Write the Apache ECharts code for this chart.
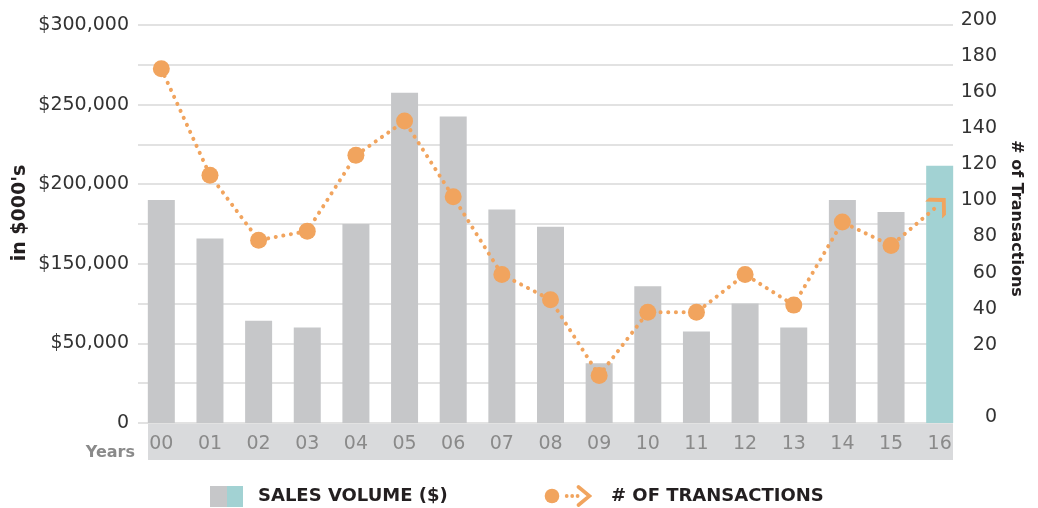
<!DOCTYPE html>
<html>
<head>
<meta charset="utf-8">
<script src="https://cdn.jsdelivr.net/npm/echarts@6/dist/echarts.min.js"></script>
<style>
  html, body { margin: 0; padding: 0; background: #ffffff; }
  #chart { width: 1038px; height: 508px; }
</style>
</head>
<body>
<div id="chart"></div>
<script>
const categories = ['00','01','02','03','04','05','06','07','08','09','10','11','12','13','14','15','16'];
const salesVolume = [168000,139000,77000,72000,150000,249000,231000,161000,148000,45000,103000,69000,90000,72000,168000,159000,194000];
const transactions = [173,114,78,83,125,144,102,59,45,3,38,38,59,42,88,75,98];
const leftTickLabels = ['0','$50,000','$150,000','$200,000','$250,000','$300,000'];
const rightTickLabels = ['0','','20','40','60','80','100','120','140','160','180','200'];
const highlightIndex = 16;

const GRAY = '#c6c7c9', TEAL = '#a2d2d3', ORANGE = '#f1a45e';
const FONT = 'DejaVu Sans';

const barIcon = 'image://data:image/svg+xml;charset=utf-8,' + encodeURIComponent(
  "<svg xmlns='http://www.w3.org/2000/svg' width='33' height='21'><rect x='0' y='0' width='17' height='21' fill='" + GRAY + "'/><rect x='17' y='0' width='16' height='21' fill='" + TEAL + "'/></svg>");
const lineIcon = 'image://data:image/svg+xml;charset=utf-8,' + encodeURIComponent(
  "<svg xmlns='http://www.w3.org/2000/svg' width='48' height='22'><circle cx='8' cy='11' r='7.3' fill='" + ORANGE + "'/>" +
  "<circle cx='22.7' cy='11' r='1.9' fill='" + ORANGE + "'/><circle cx='28.2' cy='11' r='1.9' fill='" + ORANGE + "'/><circle cx='33.6' cy='11' r='1.9' fill='" + ORANGE + "'/>" +
  "<polyline points='34.5,2 45.5,11 34.5,20' fill='none' stroke='" + ORANGE + "' stroke-width='3.6' stroke-linecap='round' stroke-linejoin='miter'/></svg>");

const chevron = 'path://M0,0 L5.6,0 L17.6,12 L5.6,24 L0,24 L12,12 Z';

const chart = echarts.init(document.getElementById('chart'), null, { renderer: 'canvas' });

const barData = salesVolume.map((v, i) => i === highlightIndex ? { value: v, itemStyle: { color: TEAL } } : v);
const lineData = transactions.map((v, i) => i === transactions.length - 1
  ? { value: v, symbol: chevron, symbolSize: [17, 24], symbolRotate: 45, symbolKeepAspect: false }
  : v);

chart.setOption({
  backgroundColor: '#ffffff',
  animation: false,
  textStyle: { fontFamily: FONT },
  grid: [
    { left: 138, right: 85, top: 25, bottom: 85, outerBoundsMode: 'none', containLabel: false },
    { left: 137, right: 74, top: 25, bottom: 85, outerBoundsMode: 'none', containLabel: false },
    { left: 137, right: 74, top: 20, bottom: 91, outerBoundsMode: 'none', containLabel: false }
  ],
  xAxis: [
    { gridIndex: 0, type: 'category', data: categories, show: false },
    { gridIndex: 1, type: 'category', data: categories, z: 10,
      axisLine: { show: false }, axisTick: { show: false }, splitLine: { show: false },
      axisLabel: { margin: 12, color: '#8a8a8a', fontSize: 19, fontFamily: FONT, interval: 0 } },
    { gridIndex: 2, type: 'category', data: categories, show: false }
  ],
  yAxis: [
    { gridIndex: 0, type: 'value', min: 0, max: 300000, interval: 30000,
      axisLine: { show: false }, axisTick: { show: false },
      splitLine: { show: true, lineStyle: { color: '#d9d9d9', width: 1.5 } },
      axisLabel: { margin: 9, color: '#333333', fontSize: 19, fontFamily: FONT,
        showMinLabel: true, showMaxLabel: true, hideOverlap: false,
        formatter: function (v) { const i = Math.round(v / 30000); return i % 2 === 0 ? leftTickLabels[i / 2] : ''; } } },
    { gridIndex: 1, type: 'value', min: 0, max: 300000, interval: 30000, show: false, splitLine: { show: false } },
    { gridIndex: 2, type: 'value', min: -20, max: 200, interval: 20, position: 'right',
      axisLine: { show: false }, axisTick: { show: false }, splitLine: { show: false },
      name: '# of Transactions', nameLocation: 'middle', nameRotate: -90, nameGap: 44,
      nameTextStyle: { color: '#231f20', fontSize: 16, fontWeight: 'bold', fontFamily: FONT },
      axisLabel: { margin: 33, align: 'right', color: '#333333', fontSize: 19, fontFamily: FONT,
        showMinLabel: true, showMaxLabel: true, hideOverlap: false,
        formatter: function (v) { return rightTickLabels[Math.round((v + 20) / 20)]; } } }
  ],
  legend: [
    { left: 210, top: 486, padding: 0, itemWidth: 33, itemHeight: 21, selectedMode: false,
      data: [{ name: 'SALES VOLUME ($)', icon: barIcon }],
      textStyle: { color: '#231f20', fontSize: 18, fontWeight: 'bold', fontFamily: FONT, padding: [0, 0, 0, 10] } },
    { left: 544, top: 485, padding: 0, itemWidth: 48, itemHeight: 22, selectedMode: false,
      data: [{ name: '# OF TRANSACTIONS', icon: lineIcon }],
      textStyle: { color: '#231f20', fontSize: 18, fontWeight: 'bold', fontFamily: FONT, padding: [0, 0, 0, 14] } }
  ],
  graphic: [
    { type: 'rect', z: -1, shape: { x: 148, y: 424, width: 805, height: 36 }, style: { fill: '#d9dadc' } },
    { type: 'text', x: 135, y: 453, style: { text: 'Years', align: 'right', verticalAlign: 'middle',
        fill: '#8a8a8a', fontSize: 16, fontWeight: 'bold', fontFamily: FONT } },
    { type: 'text', x: 20, y: 213, rotation: Math.PI / 2, style: { text: "in $000's", align: 'center', verticalAlign: 'middle',
        fill: '#231f20', fontSize: 19, fontWeight: 'bold', fontFamily: FONT } }
  ],
  series: [
    { name: 'SALES VOLUME ($)', type: 'bar', xAxisIndex: 1, yAxisIndex: 1, data: barData,
      barWidth: 27, itemStyle: { color: GRAY }, z: 2 },
    { name: '# OF TRANSACTIONS', type: 'line', xAxisIndex: 2, yAxisIndex: 2, data: lineData,
      symbol: 'circle', symbolSize: 17, z: 5,
      itemStyle: { color: ORANGE },
      lineStyle: { color: ORANGE, width: 4, type: [0.1, 7.6], cap: 'round' } }
  ]
});
</script>
</body>
</html>
